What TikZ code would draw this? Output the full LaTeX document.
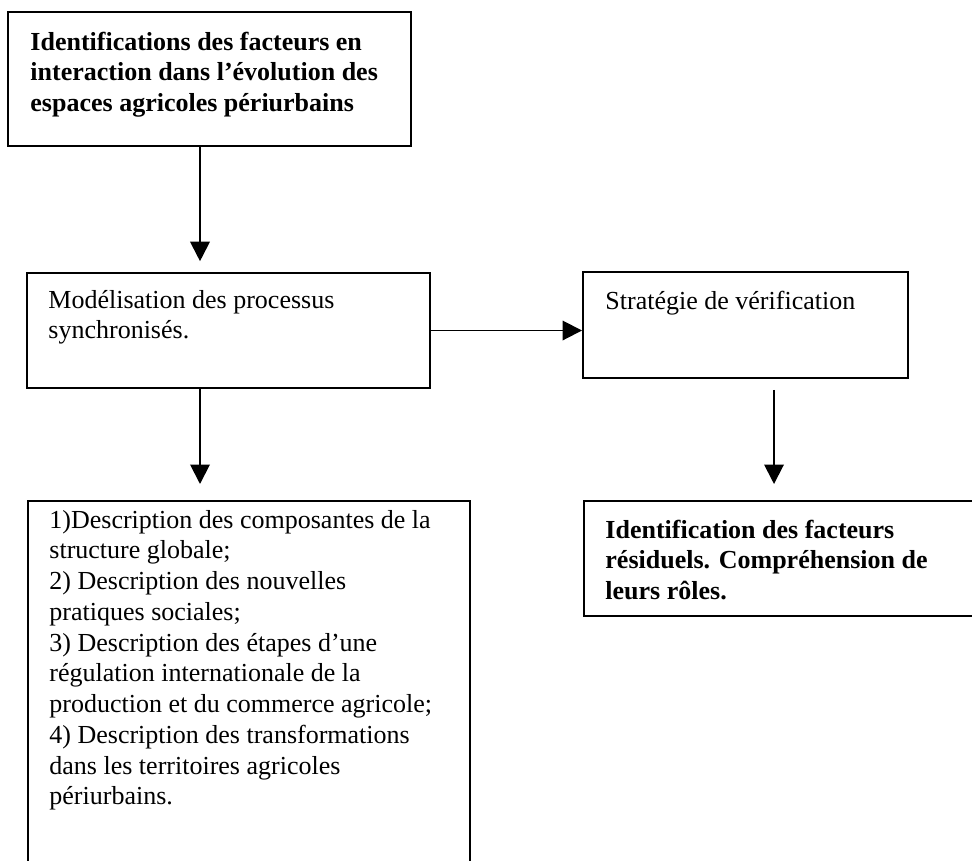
\documentclass[tikz,border=0pt]{standalone}
\usepackage{fontspec}
\setmainfont{Liberation Serif}
\usetikzlibrary{arrows.meta,fit}

\tikzset{
  box/.style={draw=black, line width=0.9pt, inner sep=0pt, fill=none},
  txt/.style={anchor=base west, inner sep=0pt, font=\fontsize{12}{14.2}\selectfont},
  arr/.style={draw=black, line width=0.9pt, -{Triangle[length=9pt,width=9pt]}},
}

\newcommand{\boxtext}[1]{\parbox[t]{9cm}{\raggedright\fontsize{12}{14.2}\selectfont #1}}

\begin{document}
\begin{tikzpicture}[x=0.4615pt, y=-0.4615pt]
  \useasboundingbox (0,0) rectangle (972,860);
  \clip (0,0) rectangle (972,860);
  \fill[white] (0,0) rectangle (972,860);

  % frames
  \node[box, fit={(8,12) (411,146)}] (b1) {};
  \node[box, fit={(27,273) (430,388)}] (b2) {};
  \node[box, fit={(583,272) (908,378)}] (b3) {};
  \node[box, fit={(28,501) (470,880)}] (b4) {};
  \node[box, fit={(584,501) (990,616)}] (b5) {};

  % texts
  \node[txt] (t1) at (30,50) {\boxtext{\bfseries Identifications des facteurs en\\
    interaction dans l’évolution des\\espaces agricoles périurbains}};
  \node[txt] (t2) at (48,308) {\boxtext{Modélisation des processus\\synchronisés.}};
  \node[txt] (t3) at (605,309) {\boxtext{Stratégie de vérification}};
  \node[txt] (t4) at (49,528) {\boxtext{1)Description des composantes de la\\
    structure globale;\\2) Description des nouvelles\\pratiques sociales;\\
    3) Description des étapes d’une\\régulation internationale de la\\
    production et du commerce agricole;\\4) Description des transformations\\
    dans les territoires agricoles\\périurbains.}};
  \node[txt] (t5) at (605,538) {\boxtext{\bfseries Identification des facteurs\\
    résiduels. Compréhension de\\leurs rôles.}};

  % connector columns
  \coordinate (cL) at (200,0);
  \coordinate (cR) at (774,0);

  % connectors
  \draw[arr, shorten >=5pt] (b1.south -| cL) -- (b2.north -| cL);
  \draw[arr] (b2.east) -- (b3.west |- b2.east);
  \draw[arr, shorten >=7.4pt] (b2.south -| cL) -- (b4.north -| cL);
  \draw[arr, shorten <=5pt, shorten >=7.4pt] (b3.south -| cR) -- (b5.north -| cR);
\end{tikzpicture}
\end{document}
